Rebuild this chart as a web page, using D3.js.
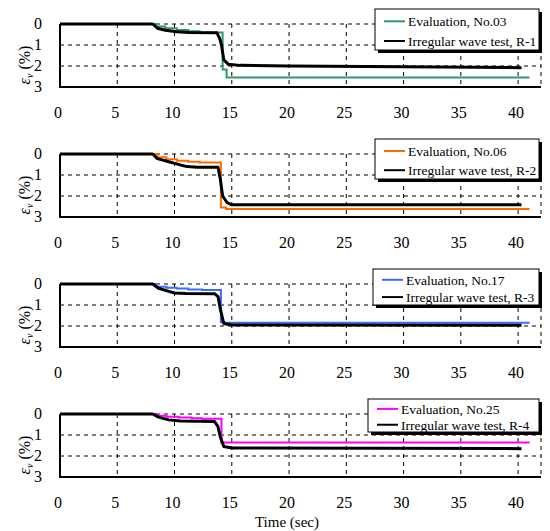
<!DOCTYPE html>
<html>
<head>
<meta charset="utf-8">
<script src="https://cdn.jsdelivr.net/npm/d3@7"></script>
<style>
  body { margin: 0; background: #fff; }
</style>
</head>
<body>
<div id="chart"></div>
<script>
// panel labels and colours
var evalNames = ["Evaluation, No.03", "Evaluation, No.06", "Evaluation, No.17", "Evaluation, No.25"];
var testNames = ["Irregular wave test, R-1", "Irregular wave test, R-2", "Irregular wave test, R-3", "Irregular wave test, R-4"];
var evalColors = ["#2e9a6a", "#ff6a00", "#3a6cff", "#ff00ff"];

var xTicks = [0, 5, 10, 15, 20, 25, 30, 35, 40];
var yTicks = [0, 1, 2, 3];

// evaluation: step curves [time, strain %]
var eval1 = [[0, 0], [8.4, 0.12], [9.2, 0.2], [10.2, 0.28], [11.2, 0.35], [12.2, 0.4], [14.2, 2.17], [14.55, 2.55], [41, 2.55]];
var eval2 = [[0, 0], [8.5, 0.15], [9.3, 0.25], [10.2, 0.32], [11.2, 0.37], [12.2, 0.4], [14.05, 2.55], [14.5, 2.62], [41, 2.62]];
var eval3 = [[0, 0], [8.4, 0.13], [9.3, 0.18], [10.2, 0.22], [11.2, 0.26], [12.4, 0.29], [14.05, 1.82], [14.4, 1.85], [41, 1.85]];
var eval4 = [[0, 0], [8.4, 0.08], [9.3, 0.13], [10.4, 0.17], [11.5, 0.2], [12.4, 0.23], [14.1, 1.36], [41, 1.36]];

// wave test records [time, strain %]
var test1 = [[0, 0], [8.1, 0], [8.5, 0.2], [9.2, 0.3], [10.2, 0.37], [11.3, 0.41], [13.7, 0.42], [13.95, 0.7], [14.1, 1.0], [14.3, 1.7], [14.7, 1.92], [15.7, 1.97], [20, 2.0], [30, 2.04], [40.3, 2.08]];
var test2 = [[0, 0], [8.1, 0], [8.5, 0.22], [9.5, 0.37], [10.5, 0.52], [11.1, 0.6], [12, 0.63], [13.8, 0.63], [14.0, 1.2], [14.2, 2.0], [14.6, 2.32], [15, 2.42], [40.3, 2.42]];
var test3 = [[0, 0], [8.1, 0], [8.6, 0.2], [9.5, 0.35], [10, 0.43], [11, 0.45], [13.5, 0.46], [13.8, 0.6], [14.0, 1.2], [14.3, 1.88], [15, 1.95], [40.3, 1.97]];
var test4 = [[0, 0], [8.1, 0], [8.6, 0.15], [9.5, 0.28], [10.5, 0.33], [12, 0.35], [13.5, 0.36], [13.8, 0.6], [14.0, 1.1], [14.3, 1.55], [15, 1.62], [40.3, 1.65]];

var evalData = [eval1, eval2, eval3, eval4];
var testData = [test1, test2, test3, test4];

// layout
var W = 550, H = 531;
var left = 60, right = 541, panelStep = 130, plotTop = 24, plotH = 63;
var legendH = [41, 40, 36, 33];
var legendX = [375, 375, 373, 368];
var serif = "Liberation Serif";

var svg = d3.select("#chart").append("svg")
  .attr("width", W).attr("height", H)
  .style("display", "block");

var x = d3.scaleLinear().domain([0, 42]).range([left, right]);

for (var i = 0; i < 4; i++) {
  var y0 = i * panelStep + plotTop;
  var y = d3.scaleLinear().domain([0, 3]).range([y0, y0 + plotH]);
  var g = svg.append("g");

  // grid
  g.selectAll(".vg").data(xTicks.filter(function(d) { return d > 0; }))
    .enter().append("line")
    .attr("x1", function(d) { return x(d); }).attr("x2", function(d) { return x(d); })
    .attr("y1", y(0)).attr("y2", y(3))
    .attr("stroke", "#000").attr("stroke-width", 1).attr("stroke-dasharray", "4,4");
  g.selectAll(".hg").data([0, 1, 2])
    .enter().append("line")
    .attr("x1", x(0)).attr("x2", x(42))
    .attr("y1", function(d) { return y(d); }).attr("y2", function(d) { return y(d); })
    .attr("stroke", "#000").attr("stroke-width", 1).attr("stroke-dasharray", "4,4");
  g.append("line").attr("x1", x(42)).attr("x2", x(42)).attr("y1", y(0)).attr("y2", y(3))
    .attr("stroke", "#000").attr("stroke-width", 1).attr("stroke-dasharray", "4,4");

  // axes frame
  g.append("path")
    .attr("d", "M" + x(0) + "," + y(0) + "V" + y(3) + "H" + x(42))
    .attr("fill", "none").attr("stroke", "#000").attr("stroke-width", 2);

  // tick labels
  g.selectAll(".xt").data(xTicks).enter().append("text")
    .attr("x", function(d) { return x(d) - 2; })
    .attr("y", y(3) + 31)
    .attr("text-anchor", "middle")
    .attr("font-family", serif)
    .attr("font-size", 16)
    .text(function(d) { return d; });
  g.selectAll(".yt").data(yTicks).enter().append("text")
    .attr("x", 42)
    .attr("y", function(d) { return y(d) + 5; })
    .attr("text-anchor", "end")
    .attr("font-family", serif)
    .attr("font-size", 16)
    .text(function(d) { return d; });

  // y label
  var yl = g.append("text")
    .attr("transform", "translate(30," + (y0 + 41) + ") rotate(-90)")
    .attr("text-anchor", "middle")
    .attr("font-family", serif)
    .attr("font-size", 16);
  yl.append("tspan").attr("font-style", "italic").text("ε");
  yl.append("tspan").attr("font-style", "italic").attr("font-size", 10).attr("dy", 3).text("v");
  yl.append("tspan").attr("dy", -3).text(" (%)");

  // lines
  var stepLine = d3.line().x(function(d) { return x(d[0]); }).y(function(d) { return y(d[1]); })
    .curve(d3.curveStepAfter);
  var testLine = d3.line().x(function(d) { return x(d[0]); }).y(function(d) { return y(d[1]); });

  g.append("path").datum(evalData[i]).attr("d", stepLine)
    .attr("fill", "none").attr("stroke", evalColors[i]).attr("stroke-width", 2);
  g.append("path").datum(testData[i]).attr("d", testLine)
    .attr("fill", "none").attr("stroke", "#000").attr("stroke-width", 3)
    .attr("stroke-linejoin", "round");

  // legend
  var lx = legendX[i], ly = i * panelStep + 9, lw = 539 - lx, lh = legendH[i];
  g.append("rect").attr("x", lx + 3).attr("y", ly + 3).attr("width", lw).attr("height", lh).attr("fill", "#000");
  g.append("rect").attr("x", lx).attr("y", ly).attr("width", lw).attr("height", lh)
    .attr("fill", "#fff").attr("stroke", "#000").attr("stroke-width", 1);
  var r1 = ly + lh * 0.3, r2 = ly + lh * 0.78;
  g.append("line").attr("x1", lx + 9).attr("x2", lx + 30).attr("y1", r1).attr("y2", r1)
    .attr("stroke", evalColors[i]).attr("stroke-width", 2);
  g.append("line").attr("x1", lx + 9).attr("x2", lx + 30).attr("y1", r2).attr("y2", r2)
    .attr("stroke", "#000").attr("stroke-width", 2);
  g.append("text").attr("x", lx + 33).attr("y", r1 + 5)
    .attr("font-family", serif).attr("font-size", 13.5).text(evalNames[i]);
  g.append("text").attr("x", lx + 33).attr("y", r2 + 5)
    .attr("font-family", serif).attr("font-size", 13.5).text(testNames[i]);
}

svg.append("text")
  .attr("x", 287).attr("y", 527)
  .attr("text-anchor", "middle")
  .attr("font-family", serif)
  .attr("font-size", 15)
  .text("Time (sec)");
</script>
</body>
</html>
